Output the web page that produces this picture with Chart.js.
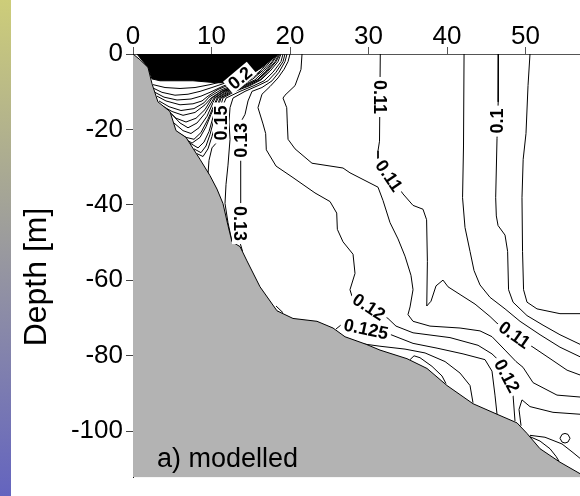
<!DOCTYPE html>
<html>
<head>
<meta charset="utf-8">
<script src="https://cdn.jsdelivr.net/npm/chart.js@4.4.1/dist/chart.umd.min.js"></script>
<style>
  html, body { margin: 0; padding: 0; background: #fff; }
  canvas { display: block; }
</style>
</head>
<body>
<canvas id="section" width="580" height="496"></canvas>
<script>
// distance [km] / depth [m] ticks
const distanceTicks = [0, 10, 20, 30, 40, 50];
const depthTicks = [0, -20, -40, -60, -80, -100];

// sea floor (distance, depth)
const bottom = [[0,0],[0.89,-1.52],[1.91,-3.56],[2.42,-7.88],[3.18,-12.71],[4.71,-15.25],[5.48,-20.33],[6.75,-22.11],[8.54,-27.95],[9.81,-32.27],[10.70,-35.83],[11.46,-39.64],[12.10,-45.5],[12.61,-49.81],[13.63,-51.08],[14.52,-54.89],[16.18,-61.75],[18.34,-68.11],[20.38,-70.14],[23.44,-70.9],[25.48,-72.68],[27.01,-75.0],[29.7,-77.0],[31.46,-78.53],[34.9,-80.81],[37.45,-83.4],[40.0,-87.93],[43.31,-92.75],[46.37,-95.55],[48.92,-97.84],[50.19,-100.64],[51.85,-104.7],[54.39,-108.26],[56.94,-111.31]];

// where the isolines are too dense to tell apart
const denseCore = [[0.5,0],[1.91,-3.56],[2.42,-6.6],[3.44,-7.1],[5.35,-7.1],[7.64,-7.1],[10.57,-7.62],[12.74,-7.62],[14.39,-6.35],[16.43,-3.56],[18.22,-0.51],[18.6,0]];

// isolines, right part
const iso095 = [[50.57,0],[50.32,-8.39],[50.06,-21.09],[49.7,-27.95],[49.55,-38.12],[49.62,-52.35],[49.75,-62.52],[50.19,-65.82],[51.46,-67.6],[54.39,-68.87],[56.94,-68.87]];
const iso100 = [[46.56,0],[46.52,-12.71],[46.37,-22.36],[46.2,-38.12],[46.28,-42.95],[46.5,-45.49],[47.39,-48.03],[47.72,-52.35],[47.84,-62.52],[48.41,-65.82],[50.19,-69.38],[52.23,-71.92],[54.39,-74.46],[56.94,-77.0]];
const iso105 = [[42.17,0],[42.1,-24.4],[41.98,-38.12],[42.29,-46.0],[42.93,-52.35],[43.44,-57.43],[44.2,-61.25],[45.48,-64.55],[47.39,-67.6],[49.3,-70.9],[51.85,-74.46],[54.39,-77.76],[56.94,-80.3]];
const iso110 = [[31.5,0],[31.4,-23.13],[31.21,-25.67],[31.21,-27.7],[32.74,-32.27],[34.39,-37.1],[35.67,-40.15],[36.94,-41.17],[37.4,-43.96],[37.5,-55.0],[37.42,-66.84],[37.96,-65.57],[38.6,-61.5],[39.49,-59.97],[40.13,-61.75],[41.66,-63.79],[43.57,-66.33],[45.48,-69.63],[46.37,-71.41],[50.96,-77.76],[53.5,-81.32],[55.29,-83.86],[56.94,-85.13]];
const iso115 = [[21.53,0],[21.4,-4.07],[20.64,-8.39],[19.36,-10.93],[19.11,-11.69],[19.58,-14.23],[19.66,-18.55],[19.75,-22.62],[20.64,-25.16],[22.8,-28.97],[26.75,-30.24],[27.64,-31.51],[31.21,-35.32],[31.85,-38.88],[32.74,-44.73],[33.76,-49.05],[34.65,-53.62],[35.41,-58.7],[35.67,-62.52],[35.29,-67.09],[35.03,-69.12],[35.67,-70.9],[37.83,-72.17],[41.66,-72.68],[44.2,-73.44],[45.73,-74.97],[47.39,-78.53],[48.79,-81.58],[49.68,-83.1],[50.96,-87.17],[54.01,-90.47],[56.94,-90.98]];
const iso120 = [[20.0,0],[19.75,-2.03],[19.24,-4.07],[18.47,-6.35],[17.45,-8.64],[16.43,-10.67],[15.92,-14.23],[16.56,-18.55],[16.9,-21.09],[16.98,-25.41],[18.22,-29.73],[20.38,-32.78],[23.18,-36.85],[25.1,-39.14],[25.95,-42.19],[26.03,-46.51],[26.75,-49.81],[28.03,-53.11],[28.28,-58.2],[27.64,-62.52],[27.9,-64.29],[30.06,-67.09],[32.48,-70.14],[33.5,-72.17],[35.67,-73.95],[40.38,-75.22],[43.95,-77.26],[45.73,-79.54],[46.62,-81.32],[47.64,-85.39],[48.41,-90.47],[48.66,-97.33]];
const iso125 = [[25.86,-72.94],[26.62,-71.66],[29.68,-72.94],[32.87,-74.46],[35.67,-76.75],[38.73,-78.02],[42.04,-79.54],[44.84,-81.07],[45.73,-84.12],[46.11,-90.47],[46.37,-95.55]];

// isolines, near the shore
const iso130 = [[13.95,-52.3],[13.6,-49.81],[13.68,-39.64],[13.72,-27.95],[13.8,-17.79],[14.27,-16.01],[14.65,-12.45],[15.16,-9.91],[16.43,-8.89],[17.71,-7.12],[18.6,-4.83],[19.36,-2.03],[19.62,0]];
const iso140 = [[12.61,-49.81],[12.1,-44.73],[11.72,-39.64],[11.85,-34.56],[12.1,-29.48],[12.36,-22.62],[12.23,-18.04],[12.36,-14.23],[12.74,-11.69],[14.27,-9.91],[15.92,-8.39],[17.2,-7.12],[18.22,-4.83],[19.11,-2.03],[19.36,0]];
const iso150 = [[10.96,-38.12],[10.06,-35.07],[9.55,-32.02],[9.68,-28.21],[10.06,-24.9],[10.7,-23.38],[11.18,-21.35],[11.26,-14.74],[11.85,-11.69],[13.63,-9.91],[15.41,-8.39],[16.69,-7.12],[17.83,-4.83],[18.85,-2.03],[19.11,0]];
const iso155 = [[8.15,-26.43],[8.92,-27.19],[9.55,-25.16],[10.06,-21.86],[10.57,-18.04],[11.46,-11.69],[12.99,-9.91],[14.9,-8.39],[16.31,-6.86],[17.45,-4.57],[18.47,-2.03],[18.85,0]];
const iso158 = [[7.77,-25.16],[8.66,-26.17],[9.3,-24.4],[9.81,-21.35],[10.32,-17.28],[11.21,-11.69],[12.74,-9.91],[14.65,-8.39],[16.18,-6.86],[17.2,-4.57],[18.22,-2.03],[18.73,0]];
const iso160 = [[7.26,-23.63],[8.28,-24.9],[9.04,-23.38],[9.68,-20.58],[10.19,-16.77],[11.08,-11.69],[12.48,-9.91],[14.39,-8.39],[15.92,-6.86],[17.07,-4.57],[18.09,-2.03],[18.6,0]];
const iso163 = [[6.5,-22.36],[7.52,-23.63],[8.54,-22.11],[9.3,-19.31],[9.94,-16.01],[10.83,-11.69],[12.23,-9.91],[14.14,-8.39],[15.8,-6.86],[16.94,-4.57],[17.83,-2.03],[18.47,0]];
const iso165 = [[5.73,-20.84],[6.75,-22.11],[7.77,-22.62],[8.66,-20.84],[9.55,-17.28],[10.7,-11.69],[11.97,-9.91],[13.89,-8.39],[15.54,-6.86],[16.69,-4.57],[17.71,-2.03],[18.34,0]];
const iso168 = [[5.22,-18.3],[6.37,-20.33],[7.39,-21.09],[8.41,-19.57],[9.43,-16.52],[10.45,-11.69],[11.72,-9.91],[13.63,-8.39],[15.29,-6.61],[16.56,-4.32],[17.45,-2.03],[18.22,0]];
const iso170 = [[4.84,-15.76],[5.99,-18.3],[7.01,-19.57],[8.15,-18.3],[9.17,-15.76],[10.32,-11.69],[11.59,-9.91],[13.38,-8.39],[15.03,-6.61],[16.43,-4.07],[17.2,-2.03],[17.96,0]];
const iso173 = [[4.2,-14.49],[5.48,-17.03],[6.75,-18.04],[8.03,-17.03],[9.17,-14.74],[10.06,-11.69],[11.34,-9.91],[13.12,-8.39],[14.9,-6.61],[16.43,-4.57]];
const iso175 = [[3.69,-13.72],[4.97,-15.25],[6.37,-16.26],[7.9,-15.5],[9.17,-13.47],[9.94,-11.69],[11.21,-9.91],[12.87,-8.39],[14.65,-6.61]];
const iso178 = [[3.31,-12.45],[4.59,-13.98],[6.11,-14.99],[7.77,-14.49],[9.04,-12.96],[9.68,-11.44],[11.08,-9.66],[12.87,-8.13],[14.65,-6.1]];
const iso180 = [[3.06,-11.18],[4.2,-12.45],[5.99,-13.47],[7.64,-13.21],[8.79,-12.45],[9.55,-11.18],[10.83,-9.4],[12.61,-7.88],[14.01,-6.61]];
const iso183 = [[2.8,-10.17],[3.95,-11.44],[5.61,-12.2],[7.39,-11.94],[8.66,-11.18],[9.81,-10.17],[11.34,-8.64],[13.12,-7.12]];
const iso185 = [[2.68,-9.15],[3.69,-10.17],[5.35,-10.93],[7.01,-10.67],[8.54,-9.91],[10.06,-8.89],[11.85,-7.62],[13.38,-6.61]];
const iso190 = [[2.55,-8.13],[4.08,-8.89],[5.99,-9.15],[7.9,-8.89],[9.81,-8.13],[11.72,-7.12]];

// small pieces near the bottom
const near1 = [[27.9,-76.49],[31.46,-77.51],[34.65,-78.27],[37.2,-79.29],[39.75,-81.58],[41.66,-84.63],[42.93,-87.93],[43.31,-92.5]];
const near2 = [[35.29,-81.07],[35.8,-80.05],[36.56,-80.56],[38.09,-82.85],[39.36,-85.39],[39.87,-87.42]];
const near3 = [[49.43,-98.6],[49.17,-94.28],[49.55,-91.74],[50.57,-93.52],[53.5,-95.04],[56.94,-95.55]];
const near4 = [[50.45,-101.4],[51.85,-102.67],[53.12,-104.7],[53.89,-106.73],[54.27,-108.0]];
const near5 = [[50.57,-101.14],[52.48,-101.65],[54.65,-103.43],[56.05,-105.72],[56.94,-107.24]];
const near6 = [[18.22,-66.84],[19.11,-68.62]];
const loop1 = [[55.67,-101.91],[55.41,-100.89],[55.03,-100.64],[54.65,-100.89],[54.39,-101.91],[54.65,-102.92],[55.03,-103.18],[55.41,-102.92],[55.67,-101.91]];

const isolines = [iso095, iso100, iso105, iso110, iso115, iso120, iso125, iso130, iso140, iso150,
  iso155, iso158, iso160, iso163, iso165, iso168, iso170, iso173, iso175, iso178, iso180, iso183, iso185, iso190,
  near1, near2, near3, near4, near5, near6, loop1];

// [text, distance, depth, angle]
const isoLabels = [
  ['0.11', 31.46, -11.4, 90],
  ['0.11', 32.61, -32.27, 56],
  ['0.1', 46.4, -17.8, -90],
  ['0.15', 11.21, -18.3, -90],
  ['0.13', 13.76, -22.87, -90],
  ['0.13', 13.63, -44.98, 90],
  ['0.12', 30.06, -67.09, 33],
  ['0.125', 29.68, -72.94, 12],
  ['0.11', 48.6, -74.5, 35],
  ['0.12', 47.64, -85.39, 62],
  ['0.2', 13.63, -6.35, -40]
];

const FONT = '"Liberation Sans", Arial, sans-serif';
const xy = (arr) => arr.map(([x, y]) => ({ x, y }));

const datasets = [
  {
    data: xy(bottom), borderColor: '#000', borderWidth: 1,
    backgroundColor: '#b3b3b3', fill: 'start', pointRadius: 0
  },
  {
    data: xy(denseCore), borderColor: '#000', borderWidth: 1,
    backgroundColor: '#000', fill: { value: 0 }, pointRadius: 0
  },
  ...isolines.map((line) => ({
    data: xy(line), borderColor: '#000', borderWidth: 1, fill: false, pointRadius: 0
  }))
];

const decorations = {
  id: 'decorations',
  beforeDraw(chart) {
    const { ctx, height } = chart;
    const g = ctx.createLinearGradient(0, 0, 0, height);
    g.addColorStop(0, '#cdcd79');
    g.addColorStop(0.5, '#9a9a9e');
    g.addColorStop(1, '#6464bf');
    ctx.save();
    ctx.fillStyle = g;
    ctx.fillRect(0, 0, 11, height);
    ctx.restore();
  },
  afterDatasetsDraw(chart) {
    const { ctx, chartArea, scales: { x, y } } = chart;
    ctx.save();
    ctx.beginPath();
    ctx.rect(chartArea.left, chartArea.top, chartArea.width, chartArea.height);
    ctx.clip();
    ctx.font = 'bold 18px ' + FONT;
    ctx.textAlign = 'center';
    ctx.textBaseline = 'middle';
    for (const [text, vx, vy, angle] of isoLabels) {
      const w = ctx.measureText(text).width;
      ctx.save();
      ctx.translate(x.getPixelForValue(vx), y.getPixelForValue(vy));
      ctx.rotate(angle * Math.PI / 180);
      ctx.fillStyle = '#fff';
      ctx.fillRect(-w / 2 - 3, -8, w + 6, 16);
      ctx.fillStyle = '#000';
      ctx.fillText(text, 0, 1);
      ctx.restore();
    }
    ctx.font = '27px ' + FONT;
    ctx.textAlign = 'left';
    ctx.textBaseline = 'alphabetic';
    ctx.fillText('a) modelled', chartArea.left + 24, 467);
    ctx.restore();

    ctx.save();
    ctx.font = '32px ' + FONT;
    ctx.fillStyle = '#000';
    ctx.textAlign = 'center';
    ctx.textBaseline = 'alphabetic';
    ctx.translate(46, 277);
    ctx.rotate(-Math.PI / 2);
    ctx.fillText('Depth [m]', 0, 0);
    ctx.restore();
  }
};

new Chart(document.getElementById('section'), {
  type: 'line',
  data: { datasets },
  plugins: [decorations],
  options: {
    responsive: false,
    animation: false,
    layout: { padding: 0 },
    plugins: { legend: { display: false }, tooltip: { enabled: false } },
    elements: { line: { tension: 0 } },
    scales: {
      x: {
        type: 'linear', position: 'top', min: 0, max: 56.94,
        afterBuildTicks: (s) => { s.ticks = distanceTicks.map((v) => ({ value: v })); },
        afterFit: (s) => { s.height = 54; },
        ticks: { color: '#000', font: { size: 26, family: FONT }, padding: -5, maxRotation: 0 },
        grid: { drawOnChartArea: false, tickLength: 7, color: '#555' },
        border: { color: '#555' }
      },
      y: {
        type: 'linear', min: -112.3, max: 0,
        afterBuildTicks: (s) => { s.ticks = depthTicks.map((v) => ({ value: v })); },
        afterFit: (s) => { s.width = 133; },
        ticks: { color: '#000', font: { size: 26, family: FONT }, padding: 3 },
        grid: { drawOnChartArea: false, tickLength: 7, color: '#444' },
        border: { color: '#000' }
      }
    }
  }
});
</script>
</body>
</html>
